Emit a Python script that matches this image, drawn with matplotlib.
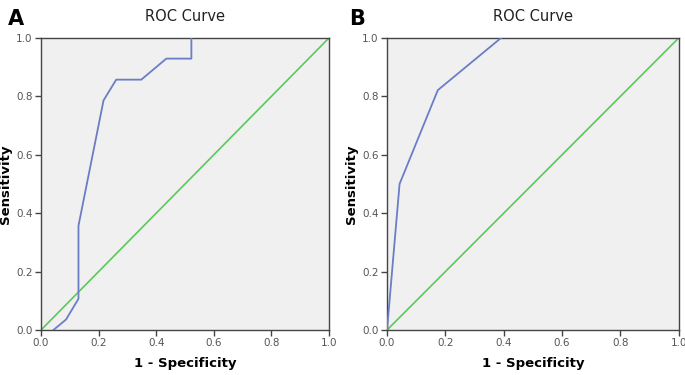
#!/usr/bin/env python3

import numpy as np
from matplotlib import pyplot as plt

# panel A
fpr_a = [0.043, 0.087, 0.130, 0.130, 0.217, 0.261, 0.348, 0.435, 0.522, 0.522]
tpr_a = [0.0, 0.036, 0.107, 0.357, 0.786, 0.857, 0.857, 0.929, 0.929, 1.0]
# panel B
fpr_b = [0.0, 0.043, 0.174, 0.391]
tpr_b = [0.0, 0.500, 0.821, 1.0]
ref = [0.0, 1.0]
ticks = [0.0, 0.2, 0.4, 0.6, 0.8, 1.0]

blue = '#6a7dc6'
green = '#5cc85c'


def roc_panel(ax, fpr, tpr, letter, lx):
    ax.set_facecolor('#f0f0f0')
    ax.plot(ref, ref, color=green, lw=1.2, zorder=2)
    ax.plot(fpr, tpr, color=blue, lw=1.3, zorder=3)
    ax.set_xlim(0, 1)
    ax.set_ylim(0, 1)
    ax.set_xticks(ticks)
    ax.set_yticks(ticks)
    ax.set_xticklabels(['%.1f' % t for t in ticks])
    ax.set_yticklabels(['%.1f' % t for t in ticks])
    ax.tick_params(direction='out', length=4, width=1, colors='#444444',
                   labelsize=7.5, labelcolor='#555555', pad=2)
    for s in ax.spines.values():
        s.set_color('#444444')
        s.set_linewidth(1.0)
    ax.set_title('ROC Curve', fontsize=10.5, color='#222222', pad=12)
    ax.set_xlabel('1 - Specificity', fontsize=9.5, fontweight='bold', labelpad=6)
    ax.set_ylabel('Sensitivity', fontsize=9.5, fontweight='bold', labelpad=3)
    fig = ax.figure
    fig.text(lx, 0.975, letter, fontsize=15, fontweight='bold', va='top', ha='left')


def main():
    fig = plt.figure(figsize=(6.85, 3.75), dpi=100)
    ax1 = fig.add_axes([0.0599, 0.12, 0.4205, 0.779])
    ax2 = fig.add_axes([0.565, 0.12, 0.426, 0.779])
    roc_panel(ax1, fpr_a, tpr_a, 'A', 0.012)
    roc_panel(ax2, fpr_b, tpr_b, 'B', 0.51)
    fig.savefig('out.png', dpi=100)


if __name__ == '__main__':
    main()
